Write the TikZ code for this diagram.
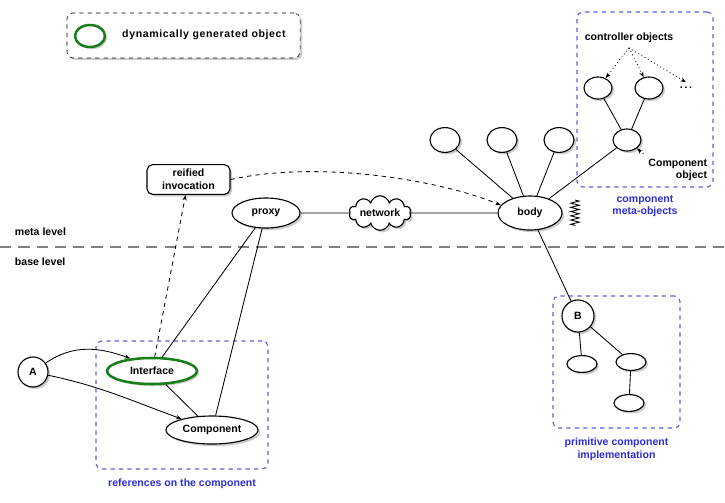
\documentclass[tikz,border=0pt]{standalone}
\usepackage{fontspec}
\setmainfont{Liberation Sans}
\usetikzlibrary{shapes.geometric, shapes.symbols, positioning, arrows.meta, shadows, decorations.pathmorphing}

\definecolor{dyngreen}{RGB}{25,125,25}
\definecolor{grpblue}{RGB}{95,95,225}
\definecolor{lblblue}{RGB}{45,45,215}

\begin{document}
\begin{tikzpicture}[
    x=0.025cm, y=-0.025cm,
    font=\fontsize{7.5}{9}\selectfont\bfseries,
    % Styles
    shade/.style={drop shadow={opacity=0.4, shadow xshift=1.5pt, shadow yshift=-1.5pt}},
    obj/.style={
        draw,
        ellipse,
        thick,
        fill=white,
        inner sep=0pt,
        shade
    },
    dynobj/.style={obj, draw=dyngreen, line width=1.8pt},
    group/.style={
        draw=grpblue,
        dashed,
        thick,
        rounded corners=4pt,
        inner sep=0pt
    },
    grouplabel/.style={text=lblblue, align=center},
    link/.style={semithick},
    arrow/.style={->, >={Stealth[length=4pt, width=3pt]}, semithick}
]

    \useasboundingbox (0,0) rectangle (725,502);

    % --- LEGEND ---
    \node[draw, dashed, rounded corners=4pt, fill=white, shade,
          minimum width=5.825cm, minimum height=1.125cm] (legend) at (183.5,35.5) {};
    \node[dynobj, minimum width=0.75cm, minimum height=0.55cm] (legobj) at (90,36) {};
    \node (legtext) at (204,35) {\addfontfeature{LetterSpace=6}dynamically generated object};

    % --- META / BASE LEVEL ---
    \draw[gray, line width=1.3pt, dash pattern=on 8pt off 5pt] (0,247) -- (725,247);
    \node[anchor=west] (meta) at (10,232) {meta level};
    \node[anchor=west] (base) at (10,262) {base level};

    % --- META OBJECTS ---
    \node[group, minimum width=3.4cm, minimum height=4.375cm] (metabox) at (645,99.5) {};
    \node[grouplabel, below=2pt of metabox] (metalabel) {component\\meta-objects};

    \node (ctrltext) at (629,38) {controller objects};
    \node[obj, minimum width=0.7cm, minimum height=0.55cm] (ctrl1) at (598,88) {};
    \node[obj, minimum width=0.7cm, minimum height=0.55cm] (ctrl2) at (649,88) {};
    \node (dots) at (686,88) {.\,.\,.};
    \node[obj, minimum width=0.7cm, minimum height=0.55cm] (compobj) at (627,140) {};
    \node[anchor=east, align=right] (cotext) at (712,170) {Component\\object};

    % --- BODY ---
    \node[obj, minimum width=1.6cm, minimum height=0.85cm] (body) at (530,213) {body};
    \node[obj, minimum width=0.75cm, minimum height=0.62cm] (top1) at (445,140) {};
    \node[obj, minimum width=0.75cm, minimum height=0.62cm] (top2) at (502,140) {};
    \node[obj, minimum width=0.75cm, minimum height=0.62cm] (top3) at (559,140) {};
    \draw[decorate, decoration={zigzag, segment length=3pt, amplitude=3pt}, semithick]
        (575,200) -- (575,226);

    \node[draw, cloud, cloud puffs=10, aspect=2.6, thick, fill=white, shade,
          inner sep=0pt, minimum width=1.55cm, minimum height=0.62cm] (network) at (380,213) {network};
    \node[obj, minimum width=1.7cm, minimum height=0.75cm] (proxy) at (266,213) {proxy};
    \node[draw, thick, rounded corners=4pt, fill=white, shade, align=center,
          minimum width=2.075cm, minimum height=0.725cm] (reified) at (188.5,179.5) {reified\\invocation};

    % --- REFERENCES ---
    \node[group, minimum width=4.3cm, minimum height=3.2cm] (refbox) at (182,405) {};
    \node[grouplabel, below=3pt of refbox] (reflabel) {references on the component};
    \node[obj, circle, minimum size=0.75cm] (A) at (33,372) {A};
    \node[dynobj, minimum width=2.25cm, minimum height=0.65cm] (iface) at (152,371) {Interface};
    \node[obj, minimum width=2.3cm, minimum height=0.7cm] (comp) at (212,430) {Component};

    % --- PRIMITIVE IMPLEMENTATION ---
    \node[group, minimum width=3.175cm, minimum height=3.3cm] (primbox) at (616.5,362) {};
    \node[grouplabel, below=3pt of primbox] (primlabel) {primitive component\\implementation};
    \node[obj, circle, minimum size=0.8cm] (B) at (578,316) {B};
    \node[obj, minimum width=0.75cm, minimum height=0.42cm] (leaf1) at (582,364) {};
    \node[obj, minimum width=0.75cm, minimum height=0.42cm] (leaf2) at (631,362) {};
    \node[obj, minimum width=0.75cm, minimum height=0.42cm] (leaf3) at (629,403) {};

    % --- LINKS ---
    \draw[link] (body) -- (top1);
    \draw[link] (body) -- (top2);
    \draw[link] (body) -- (top3);
    \draw[link] (body) -- (compobj);
    \draw[link] (ctrl1) -- (compobj);
    \draw[link] (ctrl2) -- (compobj);
    \draw[link] (proxy) -- (network);
    \draw[link] (network) -- (body);
    \draw[link] (proxy) -- (iface);
    \draw[link] (proxy) -- (comp);
    \draw[link] (iface) -- (comp);
    \draw[link] (body) -- (B);
    \draw[link] (B) -- (leaf1);
    \draw[link] (B) -- (leaf2);
    \draw[link] (leaf2) -- (leaf3);

    % --- ARROWS ---
    \draw[arrow] (A) to[out=35, in=160] (iface.150);
    \draw[arrow] (A) to[out=-12, in=160] (comp);
    \draw[arrow, dashed] (iface) -- (reified);
    \draw[arrow, dashed] (reified.east) .. controls (320,160) and (440,180) .. (body.165);
    \draw[arrow, dotted] (ctrltext.south) -- (ctrl1);
    \draw[arrow, dotted] (ctrltext.south) -- (ctrl2);
    \draw[arrow, dotted] (ctrltext.south) -- (dots.north);
    \draw[arrow, dotted] (cotext.north west) -- (compobj);

\end{tikzpicture}
\end{document}
